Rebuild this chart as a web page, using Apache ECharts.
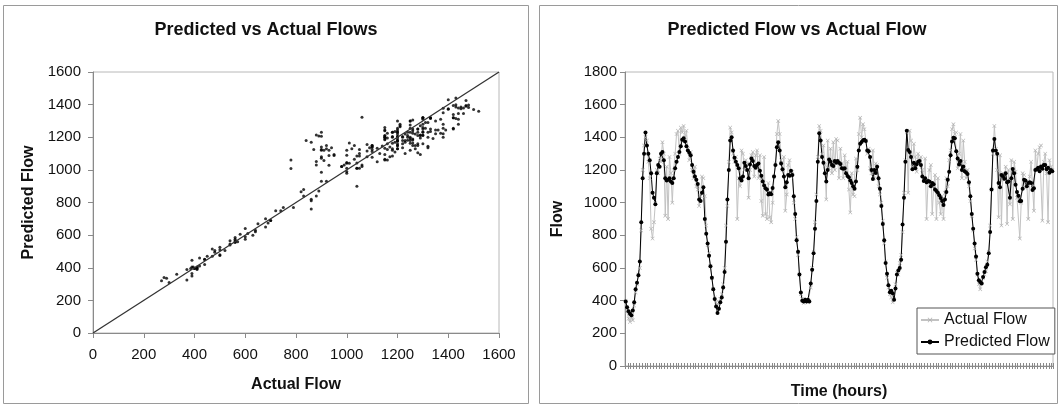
<!DOCTYPE html>
<html><head><meta charset="utf-8">
<script src="https://cdn.jsdelivr.net/npm/echarts@6/dist/echarts.min.js"></script>
<style>html,body{margin:0;padding:0;background:#fff}#c{width:1061px;height:408px}</style>
</head><body><div id="c"></div>
<script>
const leftTitle = 'Predicted vs Actual Flows';
const rightTitle = 'Predicted Flow vs Actual Flow';
const seriesNames = ['Actual Flow', 'Predicted Flow'];

// Predicted flow (black line), one value per time step
const predictedFlow = [
395,360,335,320,310,340,390,470,510,555,
640,880,1150,1300,1430,1350,1300,1260,1180,1060,
1030,990,1180,1230,1220,1300,1310,1260,1150,1135,
1140,1150,1130,1120,1150,1210,1250,1280,1310,1345,
1385,1395,1375,1345,1320,1305,1290,1230,1190,1160,
1140,1115,1020,1010,1060,1095,900,810,750,675,
610,540,470,410,365,325,350,390,420,480,
575,760,1020,1200,1380,1400,1320,1275,1250,1230,
1210,1150,1135,1160,1245,1225,1200,1150,1234,1270,
1255,1225,1214,1230,1240,1195,1165,1130,1105,1088,
1080,1050,1058,1052,1090,1160,1230,1340,1370,1320,
1240,1205,1160,1095,1125,1170,1165,1195,1170,1040,
930,770,700,560,450,400,395,405,395,405,
395,505,590,690,840,1010,1250,1425,1380,1280,
1245,1180,1130,1200,1265,1250,1230,1225,1255,1245,
1255,1245,1236,1210,1208,1210,1180,1163,1155,1135,
1120,1100,1085,1130,1220,1320,1360,1372,1382,1385,
1378,1320,1315,1280,1200,1145,1200,1182,1220,1150,
1085,980,870,770,630,565,495,452,460,446,
405,475,560,585,600,650,866,1030,1250,1440,
1322,1310,1280,1205,1245,1210,1235,1250,1255,1230,
1160,1133,1150,1125,1132,1130,1100,1120,1112,1080,
1071,1060,1045,1028,1010,985,1020,1065,1140,1190,
1290,1375,1398,1395,1315,1270,1234,1255,1200,1222,
1193,1185,1175,1125,1040,930,840,750,670,565,
525,515,505,545,575,605,620,690,820,1080,
1320,1390,1320,1300,1120,1095,1170,1163,1146,1180,
1125,1130,1030,1150,1206,1180,1110,1065,1042,1008,
1010,1085,1140,1135,1100,1120,1125,1120,1078,1088,
1200,1205,1214,1193,1222,1207,1230,1230,1205,1214,
1183,1200,1193
];

// Actual flow (grey line), same time steps
const actualFlow = [
400,330,290,270,300,280,370,450,500,560,
600,830,1200,1350,1400,1380,1250,1150,840,780,
880,1000,1200,1180,1270,1250,1370,1300,920,1220,
900,1280,1180,1000,1200,1300,1420,1440,1300,1460,
1430,1470,1400,1440,1330,1260,1310,1200,1150,1220,
1100,1080,980,1040,1160,1150,1040,860,740,690,
610,540,470,420,390,370,390,410,440,500,
600,860,980,1250,1460,1430,1300,1250,1280,900,
1150,1100,1320,1300,1200,1260,1240,1030,1200,1290,
1310,1160,1290,1320,1150,1290,1010,920,1280,930,
900,1120,910,880,1000,1160,1240,1420,1500,1420,
1260,1200,1280,950,1050,1230,1260,1160,1190,1000,
900,790,680,560,440,410,385,395,410,390,
400,480,600,700,880,1050,1280,1470,1440,1300,
1350,1230,1020,1380,1210,1330,1180,1370,1200,1390,
1380,1150,1330,1240,1150,1290,1200,1250,1080,940,
1180,1050,1040,1270,1200,1420,1520,1400,1480,1450,
1380,1300,1330,1210,1180,1320,1150,1240,1230,1100,
1050,1000,890,750,640,540,480,440,420,390,
410,500,570,560,630,680,820,1060,1260,1430,
1060,1440,1380,1220,1360,1280,1190,1300,1250,1280,
1200,1150,1270,900,1120,1200,1230,930,1100,1170,
900,1150,1000,930,1040,900,1060,1150,1100,1260,
1320,1450,1480,1420,1430,1210,1300,1420,1150,1380,
1250,1150,1200,1100,1010,920,830,720,650,560,
500,470,520,540,560,580,640,700,860,1080,
1300,1470,1330,1200,910,1290,860,1180,1140,1220,
870,1200,990,1260,900,1250,1190,1030,1040,780,
1000,1180,1170,1090,1130,900,1160,1250,1100,950,
1320,1200,1300,1340,1350,890,1250,1300,1180,880,
1260,1220,1200
];

// Diagonal reference line (perfect prediction)
const diagonal = [[0, 0], [1600, 1600]];

// Axis scales / tick labels
const scatterAxis = {min: 0, max: 1600, interval: 200};
const flowAxis = {min: 0, max: 1800, interval: 200};

// Time step categories (unlabelled on the chart)
const hours = actualFlow.map((_, i) => String(i + 1));
// Scatter pairs: actual vs predicted for each time step
const scatterPairs = actualFlow.map((a, i) => [a, predictedFlow[i]]);

const FONT = '"Liberation Sans", Arial, Helvetica, sans-serif';
const AX = '#8a8a8a';
const TXT = '#111';
const plain = v => String(v);
const xMark = 'path://M0,1L1,0L5,4L9,0L10,1L6,5L10,9L9,10L5,6L1,10L0,9L4,5Z';

const chart = echarts.init(document.getElementById('c'), null, {renderer: 'canvas'});
chart.setOption({
  animation: false,
  backgroundColor: '#fff',
  textStyle: {fontFamily: FONT},
  graphic: [
    {type: 'rect', silent: true, z: -10, shape: {x: 3.5, y: 5.5, width: 525, height: 398}, style: {fill: 'none', stroke: '#9a9a9a', lineWidth: 1}},
    {type: 'rect', silent: true, z: -10, shape: {x: 539.5, y: 5.5, width: 518, height: 398}, style: {fill: 'none', stroke: '#9a9a9a', lineWidth: 1}}
  ],
  title: [
    {text: leftTitle, left: 266, top: 21, padding: 0, textAlign: 'center', textStyle: {fontFamily: FONT, fontSize: 18, fontWeight: 'bold', color: TXT}},
    {text: rightTitle, left: 797, top: 21, padding: 0, textAlign: 'center', textStyle: {fontFamily: FONT, fontSize: 18, fontWeight: 'bold', color: TXT}}
  ],
  legend: {
    data: seriesNames, orient: 'vertical', left: 917, top: 308,
    itemWidth: 18, itemHeight: 6, itemGap: 4, padding: [3, 5, 3, 3],
    borderColor: '#555', borderWidth: 1, backgroundColor: '#fff',
    textStyle: {fontFamily: FONT, fontSize: 16, color: TXT, lineHeight: 18}
  },
  grid: [
    {left: 93, top: 72, width: 406, height: 261, show: true, borderColor: '#b8b8b8', borderWidth: 1, containLabel: false},
    {left: 625, top: 72, width: 428, height: 294, show: true, borderColor: '#b8b8b8', borderWidth: 1, containLabel: false}
  ],
  xAxis: [
    {type: 'value', gridIndex: 0, min: scatterAxis.min, max: scatterAxis.max, interval: scatterAxis.interval,
     name: 'Actual Flow', nameLocation: 'middle', nameGap: 44,
     nameTextStyle: {fontFamily: FONT, fontSize: 16, fontWeight: 'bold', color: TXT},
     axisLine: {show: true, onZero: false, lineStyle: {color: AX}},
     axisTick: {show: true, length: 5, lineStyle: {color: AX}},
     axisLabel: {fontFamily: FONT, fontSize: 15, color: TXT, margin: 14, formatter: plain},
     splitLine: {show: false}},
    {type: 'category', gridIndex: 1, data: hours, boundaryGap: true, position: 'bottom',
     name: 'Time (hours)', nameLocation: 'middle', nameGap: 18,
     nameTextStyle: {fontFamily: FONT, fontSize: 16, fontWeight: 'bold', color: TXT},
     axisLine: {show: true, onZero: false, lineStyle: {color: AX}},
     axisTick: {show: true, interval: 1, length: 3, lineStyle: {color: AX}},
     axisLabel: {show: false}, splitLine: {show: false}},
    {type: 'category', gridIndex: 1, data: hours, boundaryGap: true, position: 'bottom',
     axisLine: {show: false, onZero: false},
     axisTick: {show: true, inside: true, interval: 1, length: 3, lineStyle: {color: AX}},
     axisLabel: {show: false}, splitLine: {show: false}}
  ],
  yAxis: [
    {type: 'value', gridIndex: 0, min: scatterAxis.min, max: scatterAxis.max, interval: scatterAxis.interval,
     name: 'Predicted Flow', nameLocation: 'middle', nameGap: 56, nameRotate: 90,
     nameTextStyle: {fontFamily: FONT, fontSize: 16, fontWeight: 'bold', color: TXT},
     axisLine: {show: true, lineStyle: {color: AX}},
     axisTick: {show: true, length: 5, lineStyle: {color: AX}},
     axisLabel: {fontFamily: FONT, fontSize: 15, color: TXT, margin: 12, formatter: plain},
     splitLine: {show: false}},
    {type: 'value', gridIndex: 1, min: flowAxis.min, max: flowAxis.max, interval: flowAxis.interval,
     name: 'Flow', nameLocation: 'middle', nameGap: 59, nameRotate: 90,
     nameTextStyle: {fontFamily: FONT, fontSize: 16, fontWeight: 'bold', color: TXT},
     axisLine: {show: true, lineStyle: {color: AX}},
     axisTick: {show: true, length: 5, lineStyle: {color: AX}},
     axisLabel: {fontFamily: FONT, fontSize: 15, color: TXT, margin: 8, formatter: plain},
     splitLine: {show: false}}
  ],
  series: [
    {type: 'line', xAxisIndex: 0, yAxisIndex: 0, data: diagonal, showSymbol: false, silent: true,
     lineStyle: {color: '#333', width: 1.3}},
    {type: 'scatter', xAxisIndex: 0, yAxisIndex: 0, data: scatterPairs, symbol: 'circle', symbolSize: 3,
     itemStyle: {color: '#000'}, silent: true},
    {name: seriesNames[0], type: 'line', xAxisIndex: 1, yAxisIndex: 1, data: actualFlow,
     symbol: xMark, symbolSize: 4, showAllSymbol: true,
     lineStyle: {color: '#c2c2c2', width: 1}, itemStyle: {color: '#b0b0b0'}},
    {name: seriesNames[1], type: 'line', xAxisIndex: 1, yAxisIndex: 1, data: predictedFlow,
     symbol: 'circle', symbolSize: 4, showAllSymbol: true,
     lineStyle: {color: '#000', width: 1}, itemStyle: {color: '#000'}}
  ]
});
</script>
</body></html>
